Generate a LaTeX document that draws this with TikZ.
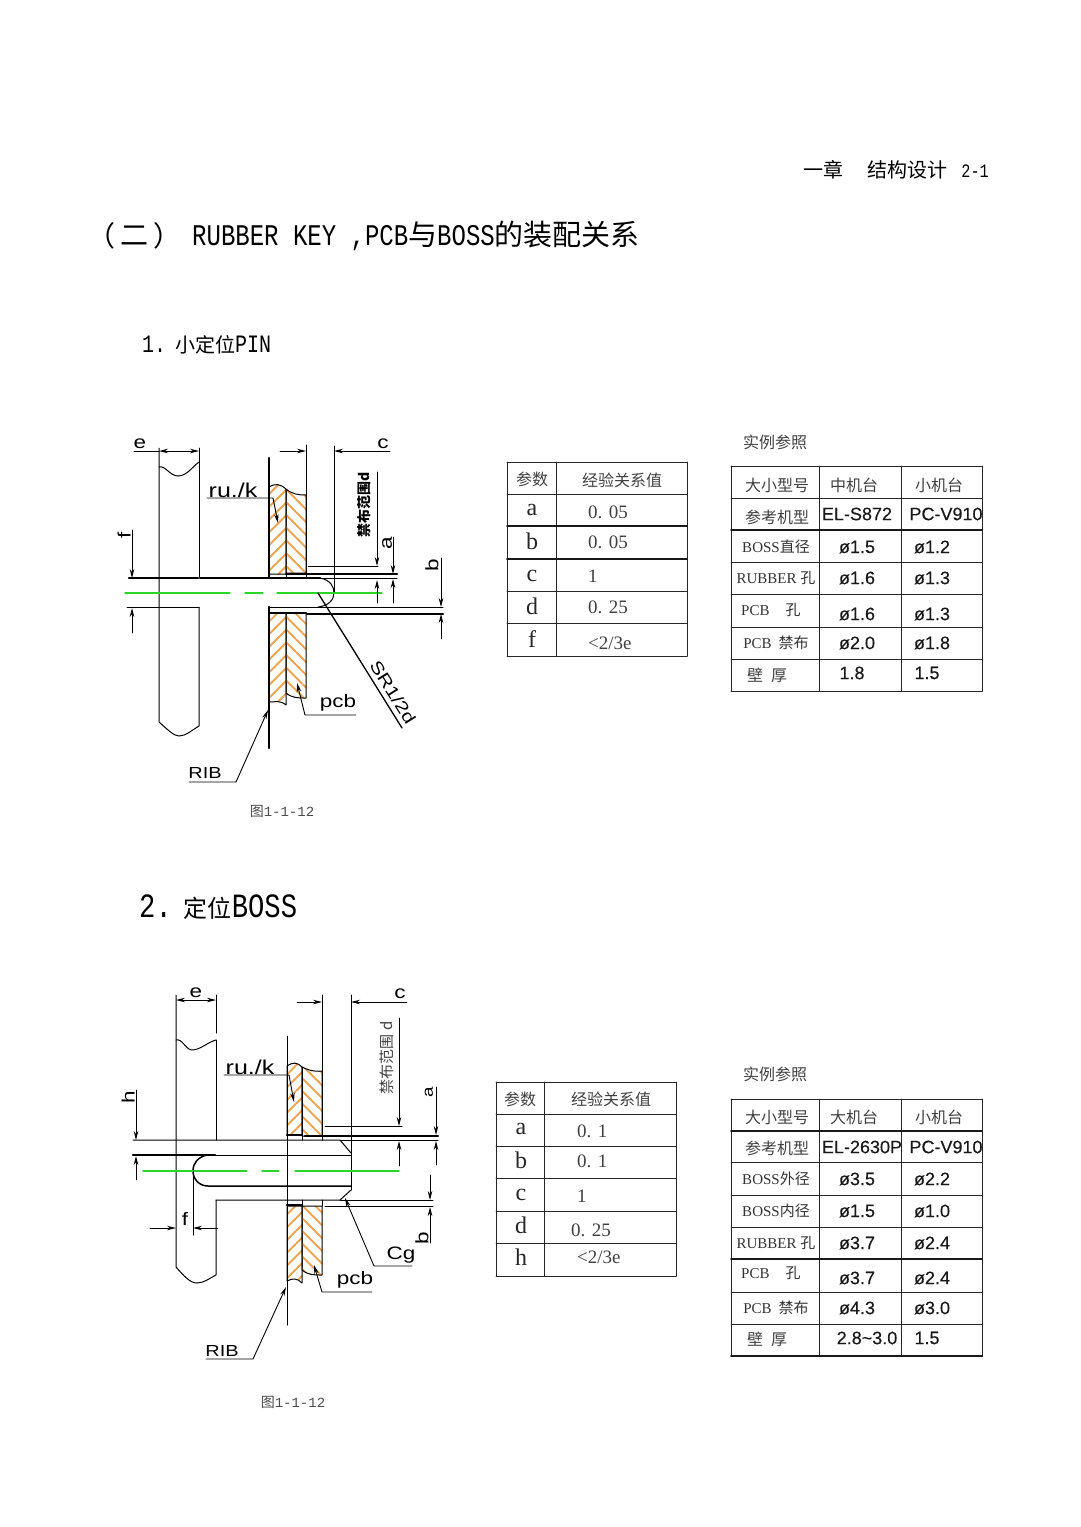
\documentclass[tikz,border=0pt]{standalone}
\usepackage{fontspec}
\usetikzlibrary{patterns.meta,arrows.meta}
\setmainfont{Liberation Serif}
\newfontfamily\cjk{Noto Sans CJK SC}
\newfontfamily\hdmono[FakeStretch=.8]{Liberation Mono}
\newfontfamily\capmono{Liberation Mono}
\newfontfamily\arial[FakeBold=.3]{Liberation Sans}
\newfontfamily\cad[FakeStretch=1.25]{Liberation Sans}
\definecolor{hatchor}{RGB}{235,165,85}
\definecolor{pingreen}{RGB}{40,215,40}
\newcommand{\sz}[1]{\fontsize{#1}{#1}\selectfont}
\tikzset{
	body/.style={line width=1pt},
	heavy/.style={line width=2.4pt},
	dim/.style={line width=.9pt,-{Stealth[length=9pt,width=4.5pt]}},
	axis/.style={draw=pingreen,line width=1.3pt},
	rubhatch/.style={line width=1pt,pattern={Lines[angle=45,distance=9pt,line width=1.9pt]},pattern color=hatchor},
	pcbhatch/.style={line width=1pt,pattern={Lines[angle=-45,distance=9pt,line width=1.9pt]},pattern color=hatchor},
	rule/.style={line width=1pt,black!85},
	fatrule/.style={line width=2pt,black!90},
	cadlab/.style={font=\cad\sz{18},inner sep=0pt},
	keylab/.style={font=\sz{24},inner sep=0pt,black!85},
	vallab/.style={font=\sz{19},inner sep=0pt,anchor=west,black!75},
	hanlab/.style={font=\cjk\sz{16},inner sep=0pt,black!75},
	serlab/.style={font=\sz{15},inner sep=0pt,black!80},
	numlab/.style={font=\arial\sz{18},inner sep=0pt,black!90},
	capt/.style={font=\cjk\sz{14},inner sep=0pt,black!70},
	headlab/.style={inner sep=0pt,anchor=west},
}
\begin{document}
\begin{tikzpicture}[x=1pt,y=-1pt,line join=round,line cap=round]
	\useasboundingbox (0,0) rectangle (1080,1527);
	% page titles
	\node[inner sep=0pt,anchor=east,font=\cjk\sz{20}] (chap) at (989,170) {一章\hspace{24pt}结构设计\hspace{14pt}{\hdmono\sz{19}2-1}};
	\node[inner sep=0pt,font=\cjk\sz{28}] (parl) at (101,236) {（};
	\node[inner sep=0pt,font=\cjk\sz{28}] (partwo) at (134,236) {二};
	\node[inner sep=0pt,font=\cjk\sz{28}] (parr) at (167,236) {）};
	\node[headlab,font=\cjk\sz{29}] (title) at (192,236) {{\hdmono\sz{30}RUBBER KEY ,PCB}与{\hdmono\sz{30}BOSS}的装配关系};
	\node[headlab,font=\cjk\sz{20}] (sec1) at (142,345) {{\hdmono\sz{25}1.}\hspace{9pt}小定位{\hdmono\sz{25}PIN}};
	\node[headlab,font=\cjk\sz{24}] (sec2) at (139,907) {{\hdmono\sz{34}2.}\hspace{12pt}定位{\hdmono\sz{34}BOSS}};

	% first drawing
	\draw[rubhatch] (269,487) .. controls (276,483) and (280,484) .. (286,489)--(286,574)--(269,574)--cycle;
	\draw[pcbhatch] (286,489) .. controls (292,494) and (298,495) .. (306,495)--(306,573)--(286,573)--cycle;
	\draw[rubhatch] (269,613)--(286,613)--(286,705) .. controls (280,700) and (276,702) .. (269,702)--cycle;
	\draw[pcbhatch] (286,613)--(306,613)--(306,698) .. controls (298,698) and (292,698) .. (286,693)--cycle;
	\draw[body] (159,448)--(159,722) .. controls (168,730) and (174,736) .. (179,736) .. controls (186,736) and (192,730) .. (199,726)--(199,607);
	\draw[body] (199,577)--(199,448);
	\draw[body] (159,467) .. controls (165,465) and (170,476) .. (178,476) .. controls (187,476) and (193,466) .. (199,462);
	\draw[heavy] (269,458)--(269,578) (269,607)--(269,748);
	\draw[heavy] (129,578)--(198,578) (200,578)--(320,578);
	\draw[heavy] (286,574)--(397,574) (307,614)--(443,614) (269,613)--(306,613);
	\draw[body] (127,607)--(199,607) (269,607)--(317,607) (307,607)--(443,607);
	\draw[body] (320,578) .. controls (330,580) and (334,586) .. (334,593) .. controls (334,600) and (328,606) .. (318,607);
	\draw[body] (320,578)--(397,578);
	\draw[body] (286,574)--(286,578) (306,445)--(306,578) (334,446)--(334,593);
	\draw[axis] (125,593)--(230,593) (245,593)--(263,593) (277,593)--(382,593);
	% dimensions
	\draw[body] (134,451)--(159,451);
	\draw[dim] (179,451)--(159,451);
	\draw[dim] (179,451)--(199,451);
	\draw[dim] (280,451)--(306,451);
	\draw[dim] (390,451)--(334,451);
	\draw[dim] (132,530)--(132,578);
	\draw[dim] (132,633)--(132,608);
	\draw[dim] (377,472)--(377,566);
	\draw[dim] (377,603)--(377,580);
	\draw[body] (308,566)--(378,566);
	\draw[dim] (393,537)--(393,574);
	\draw[dim] (393,603)--(393,579);
	\draw[dim] (441,558)--(441,607);
	\draw[dim] (441,639)--(441,614);
	\node[cadlab] (e1) at (140,444) {e};
	\node[cadlab] (c1) at (383,444) {c};
	\node[cadlab,rotate=90] (f1) at (124,535) {f};
	\node[cadlab,rotate=90] (a1) at (387,543) {a};
	\node[cadlab,rotate=90] (b1) at (432,565) {b};
	\node[inner sep=0pt,rotate=90,font=\cjk\bfseries\sz{14}] (ban1) at (364,505) {禁布范围d};
	% leaders
	\coordinate (ruA) at (207,498);
	\coordinate (ruB) at (273,498);
	\coordinate (ruC) at (278,523);
	\coordinate (pcA) at (356,715);
	\coordinate (pcB) at (305,715);
	\coordinate (pcC) at (297,683);
	\coordinate (riA) at (189,782);
	\coordinate (riB) at (236,782);
	\coordinate (riC) at (268,710);
	\coordinate (srA) at (318,593);
	\coordinate (srB) at (402,728);
	\draw[dim] (ruA)--(ruB)--(ruC);
	\draw[dim] (pcA)--(pcB)--(pcC);
	\draw[dim] (riA)--(riB)--(riC);
	\draw[line width=1.3pt] (srA)--(srB);
	\node[cadlab,font=\cad\sz{20}] (ru1) at (233,490) {ru./k};
	\node[cadlab] (pc1) at (338,703) {pcb};
	\node[cadlab,font=\cad\sz{16}] (ri1) at (205,773) {RIB};
	\node[cadlab,font=\cad\sz{17},rotate=-58] (sr1) at (393,692) {SR1/2d};
	\node[capt] (cap1) at (282,811) {图{\capmono\sz{14}1-1-12}};

	% second drawing
	\draw[rubhatch] (287,1066) .. controls (293,1062) and (297,1062) .. (302,1067)--(302,1135)--(287,1135)--cycle;
	\draw[pcbhatch] (302,1067) .. controls (308,1070) and (314,1072) .. (322,1071)--(322,1136)--(302,1136)--cycle;
	\draw[rubhatch] (287,1206)--(302,1206)--(302,1283) .. controls (297,1278) and (293,1278) .. (287,1281)--cycle;
	\draw[pcbhatch] (302,1206)--(322,1206)--(322,1275) .. controls (314,1275) and (308,1275) .. (302,1270)--cycle;
	\draw[body] (176,995)--(176,1267) .. controls (184,1276) and (190,1283) .. (197,1283) .. controls (204,1283) and (210,1278) .. (216,1275)--(216,1200);
	\draw[body] (216,1140)--(216,1040) (216,1033)--(216,995);
	\draw[body] (176,1040) .. controls (182,1038) and (186,1050) .. (192,1050) .. controls (200,1050) and (208,1042) .. (216,1040);
	\draw[body] (287,1036)--(287,1325) (302,1067)--(302,1140) (322,995)--(322,1140);
	\draw[body] (302,1200)--(302,1206) (322,1200)--(322,1206) (351,995)--(351,1190);
	\draw[body] (133,1140)--(340,1140)--(351,1153) (216,1200)--(340,1200)--(351,1190);
	\draw[body] (340,1200)--(433,1200) (325,1206)--(433,1206) (340,1140)--(438,1140);
	\draw[heavy] (133,1155)--(215,1155);
	\draw[body] (207,1155)--(351,1155);
	\draw[line width=1.5pt] (207,1155) .. controls (198,1157) and (193,1163) .. (193,1171) .. controls (193,1179) and (199,1186) .. (208,1186)--(351,1186);
	\draw[heavy] (305,1136)--(438,1136) (287,1135)--(302,1135) (287,1205)--(302,1205);
	\draw[axis] (143,1171)--(247,1171) (262,1171)--(279,1171) (295,1171)--(399,1171);
	% dimensions
	\draw[dim] (196,1000)--(176,1000);
	\draw[dim] (196,1000)--(216,1000);
	\draw[dim] (297,1002)--(322,1002);
	\draw[dim] (407,1002)--(351,1002);
	\draw[dim] (399,1018)--(399,1126);
	\draw[dim] (399,1166)--(399,1141);
	\draw[body] (325,1126)--(402,1126);
	\draw[dim] (436,1087)--(436,1135);
	\draw[dim] (436,1165)--(436,1141);
	\draw[dim] (430,1175)--(430,1200);
	\draw[dim] (430,1243)--(430,1207);
	\draw[dim] (136,1090)--(136,1140);
	\draw[dim] (136,1180)--(136,1156);
	\draw[dim] (150,1228)--(176,1228);
	\draw[dim] (218,1228)--(193,1228);
	\draw[body] (193,1171)--(193,1235);
	\node[cadlab] (e2) at (196,993) {e};
	\node[cadlab] (c2) at (400,994) {c};
	\node[cadlab,rotate=90] (h2) at (128,1097) {h};
	\node[cadlab] (f2) at (185,1219) {f};
	\node[cadlab,font=\cad\sz{15},rotate=90] (a2) at (429,1092) {a};
	\node[cadlab,rotate=90] (b2) at (422,1238) {b};
	\node[inner sep=0pt,rotate=90,font=\cjk\sz{15},black!75] (ban2) at (387,1058) {禁布范围 d};
	% leaders
	\coordinate (rvA) at (224,1075);
	\coordinate (rvB) at (289,1075);
	\coordinate (rvC) at (294,1102);
	\coordinate (pbA) at (372,1292);
	\coordinate (pbB) at (322,1292);
	\coordinate (pbC) at (314,1265);
	\coordinate (rbA) at (206,1359);
	\coordinate (rbB) at (253,1359);
	\coordinate (rbC) at (286,1287);
	\coordinate (cgA) at (412,1266);
	\coordinate (cgB) at (374,1266);
	\coordinate (cgC) at (345,1198);
	\draw[dim] (rvA)--(rvB)--(rvC);
	\draw[dim] (pbA)--(pbB)--(pbC);
	\draw[dim] (rbA)--(rbB)--(rbC);
	\draw[dim] (cgA)--(cgB)--(cgC);
	\node[cadlab,font=\cad\sz{20}] (ru2) at (250,1067) {ru./k};
	\node[cadlab] (pc2) at (355,1280) {pcb};
	\node[cadlab,font=\cad\sz{16}] (ri2) at (222,1351) {RIB};
	\node[cadlab] (cg2) at (401,1255) {Cg};
	\node[capt] (cap2) at (293,1402) {图{\capmono\sz{14}1-1-12}};

	% parameter tables
	\foreach \y in {462,494,526,559,591,623,656}
	\draw[rule] (507,\y)--(687,\y);
	\foreach \x in {507,556,687}
	\draw[rule] (\x,462)--(\x,656);
	\draw[fatrule] (507,526)--(687,526) (507,559)--(687,559);
	\node[hanlab] (parA) at (532,479) {参数};
	\node[hanlab] (relA) at (622,480) {经验关系值};
	\foreach \y/\k/\w/\v [count=\i] in {510/a/512/0. 05,541/b/542/0. 05,576/c/576/1,606/d/607/0. 25,639/f/643/{<2/3e}}{
		\node[keylab] (keyA\i) at (532,\y) {\k};
		\node[vallab] (valA\i) at (588,\w) {\v};
	}
	\foreach \y in {1082,1114,1146,1178,1211,1243,1276}
	\draw[rule] (496,\y)--(676,\y);
	\foreach \x in {496,544,676}
	\draw[rule] (\x,1082)--(\x,1276);
	\node[hanlab] (parC) at (520,1099) {参数};
	\node[hanlab] (relC) at (611,1099) {经验关系值};
	\foreach \y/\k/\w/\u/\v [count=\i] in {1129/a/1131/577/0. 1,1160/b/1161/577/0. 1,1195/c/1196/577/1,1225/d/1230/571/0. 25,1257/h/1257/577/{<2/3e}}{
		\node[keylab] (keyC\i) at (521,\y) {\k};
		\node[vallab] (valC\i) at (\u,\w) {\v};
	}

	% reference tables
	\node[hanlab] (refB) at (775,442) {实例参照};
	\foreach \y in {466,498,562,594,627,659,691}
	\draw[rule] (731,\y)--(982,\y);
	\foreach \x in {731,819,901,982}
	\draw[rule] (\x,466)--(\x,691);
	\draw[fatrule] (731,530)--(982,530);
	\node[hanlab] (sizeB) at (777,485) {大小型号};
	\node[hanlab] (midB) at (854,485) {中机台};
	\node[hanlab] (smlB) at (939,485) {小机台};
	\node[hanlab] (modB) at (777,517) {参考机型};
	\node[numlab] (elB) at (857,514) {EL-S872};
	\node[numlab] (pcB1) at (946,514) {PC-V910};
	\foreach \y/\t/\p/\q [count=\i] in {547/BOSS{\cjk 直径}/ø1.5/ø1.2,578/RUBBER {\cjk 孔}/ø1.6/ø1.3,643/PCB\hspace{7pt}{\cjk 禁布}/ø2.0/ø1.8}{
		\node[serlab] (rowB\i) at (776,\y) {\t};
		\node[numlab] (midB\i) at (857,\y) {\p};
		\node[numlab] (smlB\i) at (932,\y) {\q};
	}
	\node[serlab,anchor=west] (pcbB) at (741,610) {PCB\hspace{16pt}{\cjk 孔}};
	\node[numlab] (midB4) at (857,614) {ø1.6};
	\node[numlab] (smlB4) at (932,614) {ø1.3};
	\node[hanlab] (wallB) at (767,675) {壁\hspace{8pt}厚};
	\node[numlab] (midB5) at (852,673) {1.8};
	\node[numlab] (smlB5) at (927,673) {1.5};

	\node[hanlab] (refD) at (775,1074) {实例参照};
	\foreach \y in {1099,1162,1195,1227,1292,1324}
	\draw[rule] (731,\y)--(982,\y);
	\foreach \x in {731,819,901,982}
	\draw[rule] (\x,1099)--(\x,1356);
	\draw[fatrule] (731,1131)--(982,1131) (731,1259)--(982,1259) (731,1356)--(982,1356);
	\node[hanlab] (sizeD) at (777,1117) {大小型号};
	\node[hanlab] (bigD) at (854,1117) {大机台};
	\node[hanlab] (smlD) at (939,1117) {小机台};
	\node[hanlab] (modD) at (777,1148) {参考机型};
	\node[numlab] (elD) at (862,1147) {EL-2630P};
	\node[numlab] (pcD1) at (946,1147) {PC-V910};
	\foreach \y/\t/\p/\q [count=\i] in {1179/BOSS{\cjk 外径}/ø3.5/ø2.2,1211/BOSS{\cjk 内径}/ø1.5/ø1.0,1243/RUBBER {\cjk 孔}/ø3.7/ø2.4,1308/PCB\hspace{7pt}{\cjk 禁布}/ø4.3/ø3.0}{
		\node[serlab] (rowD\i) at (776,\y) {\t};
		\node[numlab] (midD\i) at (857,\y) {\p};
		\node[numlab] (smlD\i) at (932,\y) {\q};
	}
	\node[serlab,anchor=west] (pcbD) at (741,1273) {PCB\hspace{16pt}{\cjk 孔}};
	\node[numlab] (midD5) at (857,1278) {ø3.7};
	\node[numlab] (smlD5) at (932,1278) {ø2.4};
	\node[hanlab] (wallD) at (767,1339) {壁\hspace{8pt}厚};
	\node[numlab] (midD6) at (867,1338) {2.8\textasciitilde3.0};
	\node[numlab] (smlD6) at (927,1338) {1.5};
\end{tikzpicture}
\end{document}
